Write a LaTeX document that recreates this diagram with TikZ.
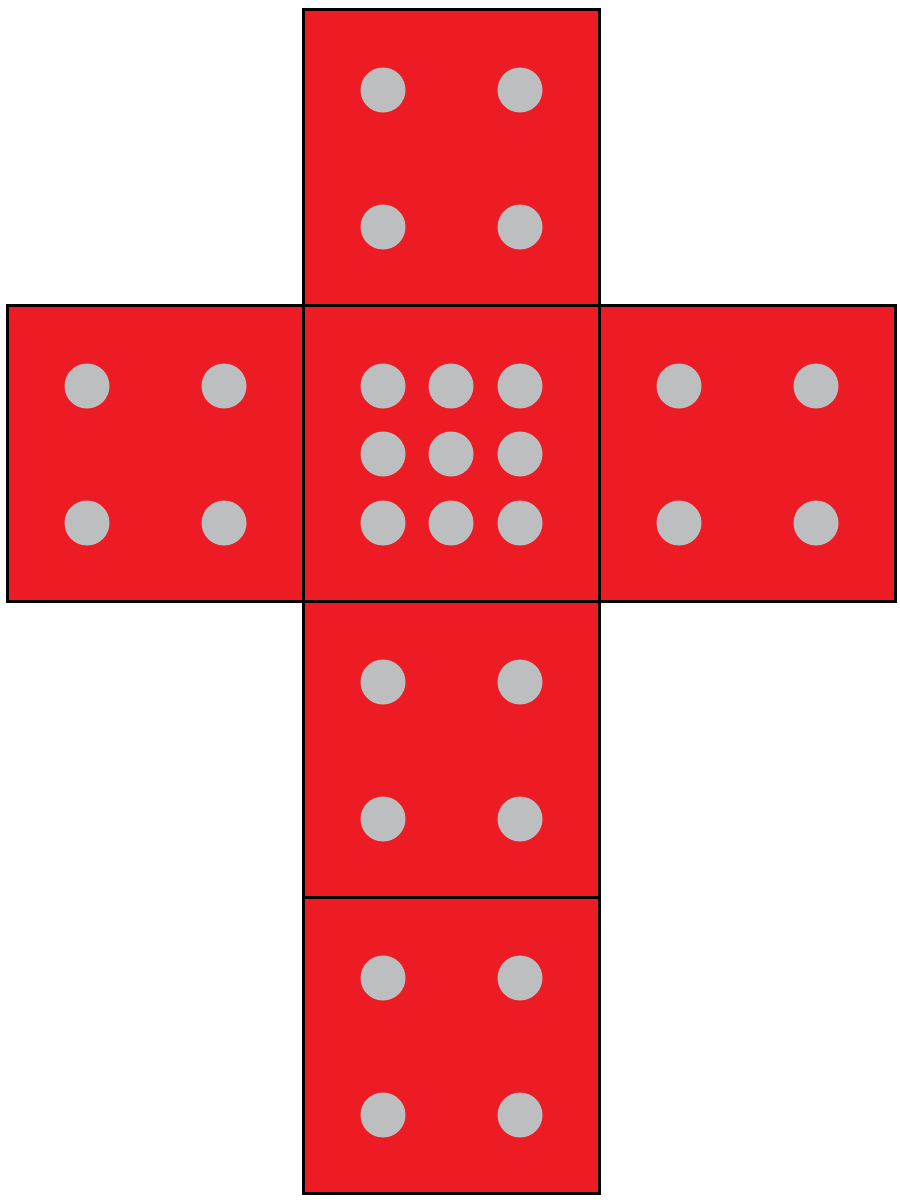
\documentclass[tikz,border=0pt]{standalone}
\definecolor{diered}{HTML}{ED1C24}
\definecolor{pipgray}{HTML}{BCBEC0}
\begin{document}
\begin{tikzpicture}[x=1pt,y=-1pt,
  face/.style={fill=diered,draw=black,line width=3pt},
  pip/.style={fill=pipgray,draw=none}]
\useasboundingbox (0,0) rectangle (900,1200);
% faces: (left x, top y)
\foreach \fx/\fy/\n in {303/9/4,7/305/4,599/305/4,303/601/4,303/897/4}{
  \draw[face] (\fx,\fy) rectangle ++(296,296);
  \foreach \dx in {80,217}\foreach \dy in {81,218}
    \fill[pip] (\fx+\dx,\fy+\dy) circle (22.5);
}
\draw[face] (303,305) rectangle ++(296,296);
\foreach \dx in {80,148,217}\foreach \dy in {81,149,218}
  \fill[pip] (303+\dx,305+\dy) circle (22.5);
\end{tikzpicture}
\end{document}
